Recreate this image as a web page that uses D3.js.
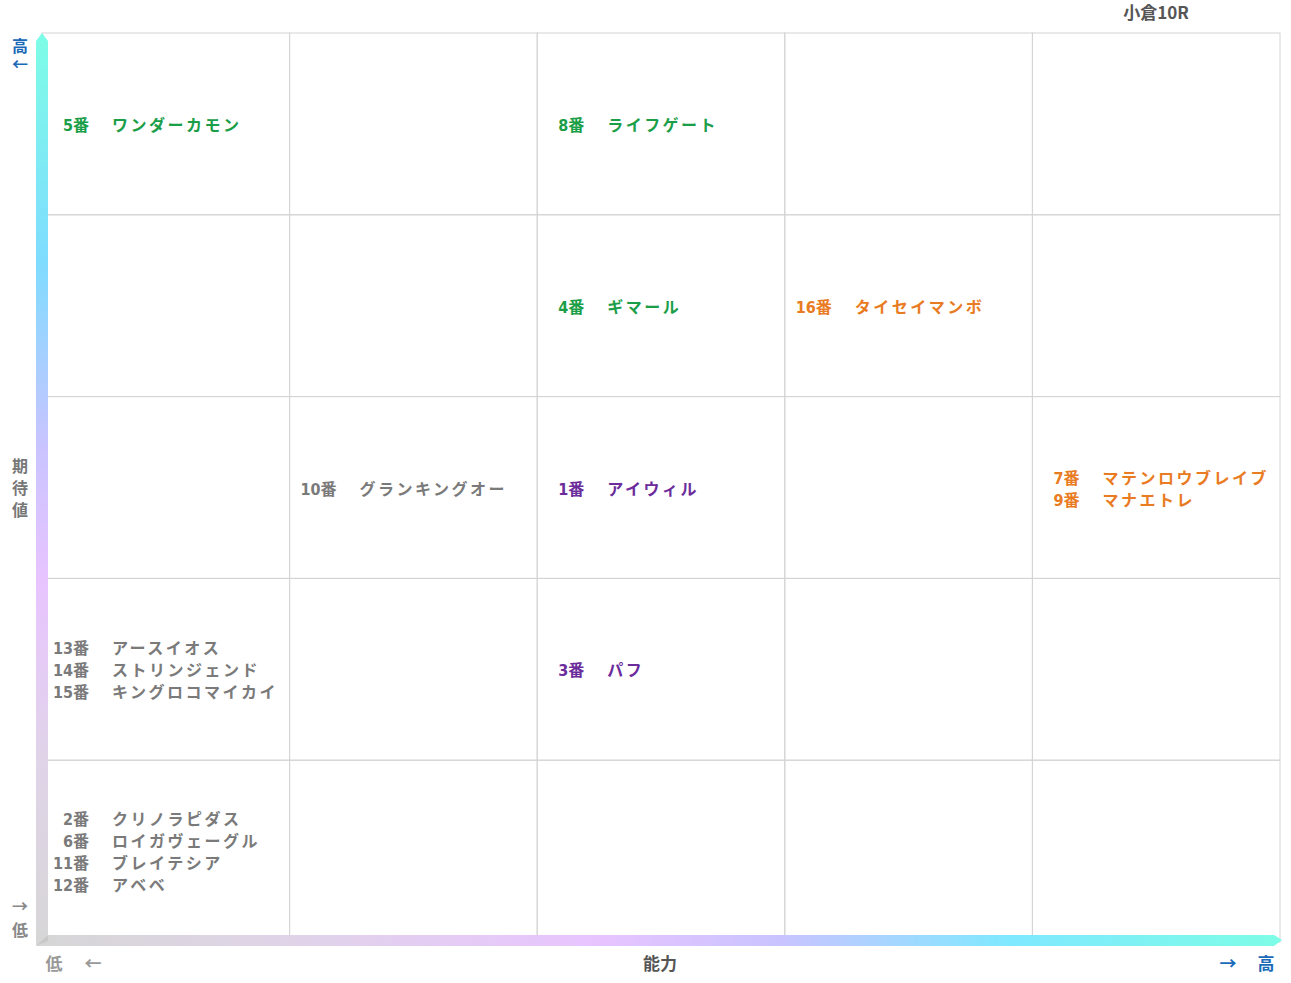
<!DOCTYPE html>
<html><head><meta charset="utf-8">
<script src="https://cdn.jsdelivr.net/npm/d3@7"></script>
<style>body{margin:0;background:#fff}text{font-family:"Noto Sans CJK JP",sans-serif;font-weight:700}</style>
</head><body><svg id="c" width="1291" height="983"></svg>
<script>
const abilityLevels=[1,2,3,4,5];
const expectLevels=[5,4,3,2,1];
const horseNums=[5,8,4,16,10,1,7,9,13,14,15,3,2,6,11,12];
const horseNames=["ワンダーカモン","ライフゲート","ギマール","タイセイマンボ","グランキングオー","アイウィル","マテンロウブレイブ","マナエトレ","アースイオス","ストリンジェンド","キングロコマイカイ","パフ","クリノラピダス","ロイガヴェーグル","ブレイテシア","アベベ"];
const horseAbility=[1,3,3,4,2,3,5,5,1,1,1,3,1,1,1,1];
const horseExpect=[5,5,4,4,3,3,3,3,2,2,2,2,1,1,1,1];
const horseGroup=["g","g","g","o","n","p","o","o","n","n","n","p","n","n","n","n"];
const groupColor={g:"#1a9e48",o:"#e97b22",p:"#6b2c9c",n:"#7a7a7a"};

const svg=d3.select("#c");
const L=42,R=1280,T=33,B=942;
const x=d3.scaleBand().domain(abilityLevels).range([L,R]);
const y=d3.scaleBand().domain(expectLevels).range([T,B]);
const g=svg.append("g");
abilityLevels.forEach(a=>expectLevels.forEach(e=>{
  g.append("rect").attr("x",x(a)).attr("y",y(e)).attr("width",x.bandwidth()).attr("height",y.bandwidth())
   .attr("fill","none").attr("stroke","#d4d4d4").attr("stroke-width",1);
}));
const defs=svg.append("defs");
const gv=defs.append("linearGradient").attr("id","gv").attr("x1",0).attr("y1",0).attr("x2",0).attr("y2",1);
[[0,"#7dfde6"],[0.25,"#7fdcff"],[0.45,"#c8c4ff"],[0.6,"#e8c4ff"],[0.8,"#e0d4e8"],[1,"#d6d6d6"]].forEach(s=>gv.append("stop").attr("offset",s[0]).attr("stop-color",s[1]));
const gh=defs.append("linearGradient").attr("id","gh").attr("x1",0).attr("y1",0).attr("x2",1).attr("y2",0);
[[0,"#d6d6d6"],[0.2,"#e0d4e8"],[0.45,"#e8c4ff"],[0.6,"#c8c4ff"],[0.78,"#7fe8ff"],[1,"#7dfde6"]].forEach(s=>gh.append("stop").attr("offset",s[0]).attr("stop-color",s[1]));
const HB=B-6;
svg.append("path").attr("d",`M36,${T+8} L42,${T} L48,${T+8} L48,${HB} L36,${HB+10} Z`).attr("fill","url(#gv)");
svg.append("path").attr("d",`M36,${HB+10} L48,${HB-1} L${R-6},${HB-1} L${R+2},${HB+4} L${R-6},${HB+10} Z`).attr("fill","url(#gh)");
svg.append("path").attr("d",`M36,${HB+10} L48,${HB-1} L48,${HB+5} Z`).attr("fill","#c8c8c8");

const cells=d3.groups(horseNums.map((n,i)=>({n,name:horseNames[i],a:horseAbility[i],e:horseExpect[i],c:groupColor[horseGroup[i]]})),d=>d.a+"-"+d.e);
cells.forEach(([k,list])=>{
  const cx=x(list[0].a), cy=y(list[0].e)+y.bandwidth()/2;
  list.forEach((d,j)=>{
    const ty=cy+(j-(list.length-1)/2)*22+7;
    svg.append("text").attr("x",cx+31).attr("y",ty).attr("text-anchor","end").attr("fill",d.c).style("font-size","16px").style("font-family","'Liberation Sans Narrow','DejaVu Sans Condensed',sans-serif").text(d.n);
    svg.append("text").attr("x",cx+31).attr("y",ty).attr("fill",d.c).style("font-size","16px").text("番");
    svg.append("text").attr("x",cx+70).attr("y",ty).attr("fill",d.c).style("font-size","16px").style("letter-spacing","2.5px").text(d.name);
  });
});
const txt=(xx,yy,s,c,anchor="middle",fs=17)=>svg.append("text").attr("x",xx).attr("y",yy).attr("text-anchor",anchor).attr("fill",c).style("font-size",fs+"px").text(s);
txt(1156,19,"小倉10R","#555");
txt(20,52,"高","#1a6ab8",undefined,16);txt(20,70,"←","#1a6ab8",undefined,16);
txt(20,472,"期","#777",undefined,16);txt(20,494,"待","#777",undefined,16);txt(20,516,"値","#777",undefined,16);
txt(20,912,"→","#888",undefined,16);txt(20,936,"低","#888",undefined,16);
txt(54,970,"低","#999");txt(93,970,"←","#999");
txt(660,970,"能力","#555");
txt(1228,970,"→","#1a6ab8");txt(1266,970,"高","#1a6ab8");
</script></body></html>
